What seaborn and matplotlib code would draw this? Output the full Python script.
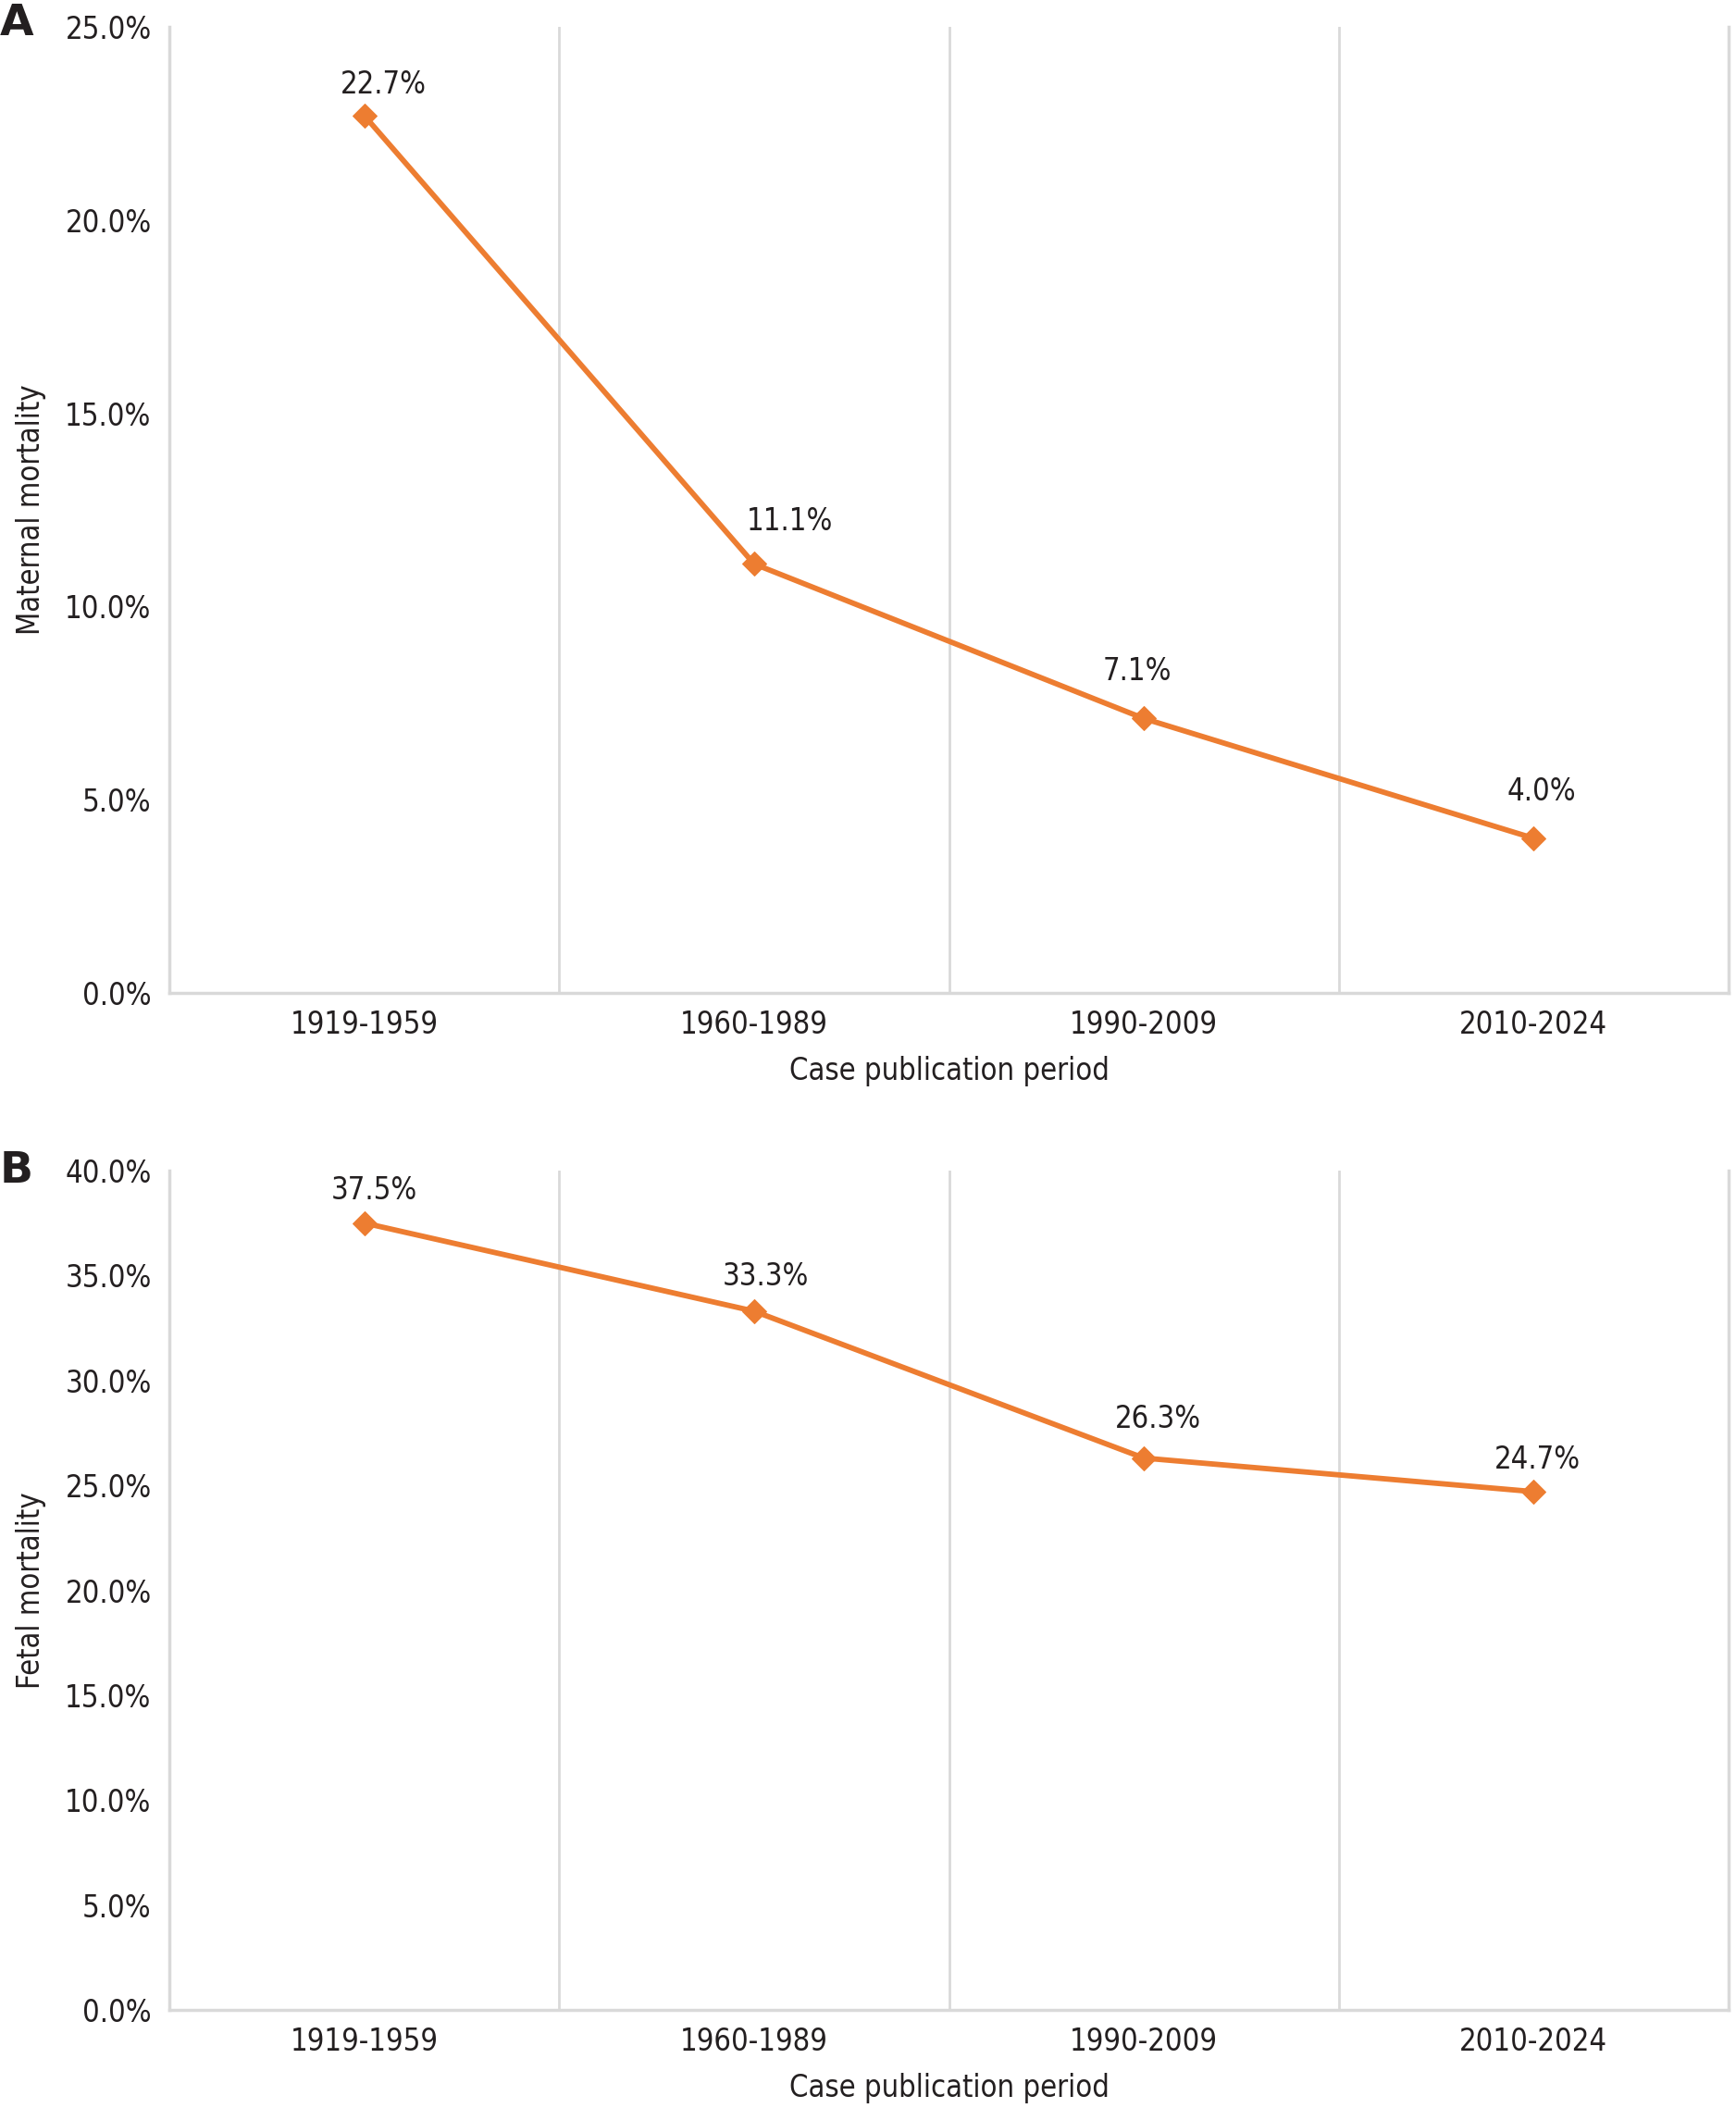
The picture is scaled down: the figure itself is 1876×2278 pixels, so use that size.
import matplotlib
matplotlib.use("Agg")
import matplotlib.pyplot as plt
import seaborn as sns
import pandas as pd
from matplotlib import font_manager

periods = ["1919-1959", "1960-1989", "1990-2009", "2010-2024"]
maternal_mortality = [22.7, 11.1, 7.1, 4.0]
fetal_mortality = [37.5, 33.3, 26.3, 24.7]
maternal_ticks = [0, 5, 10, 15, 20, 25]
fetal_ticks = [0, 5, 10, 15, 20, 25, 30, 35, 40]

sns.set_theme(style="white")
condensed = [f for f in font_manager.fontManager.ttflist
             if f.name == "DejaVu Sans" and ("ondensed" in str(f.stretch) or "Condensed" in f.fname)]
plt.rcParams['font.family'] = ['DejaVu Sans']
if condensed:
    plt.rcParams['font.stretch'] = 'condensed'

TEXT = "#231F20"
ORANGE = "#ED7D31"
GRID = "#D9D9D9"
FS = 23.5

W, H = 1876, 2278
fig = plt.figure(figsize=(W / 100, H / 100), dpi=100)
axA = fig.add_axes([0.0976, 0.529, 0.8981, 0.4583])
axB = fig.add_axes([0.0976, 0.0465, 0.8981, 0.3982])

# label offsets (points) relative to marker
offA = [(15, 24), (28, 33), (-5, 37), (6, 36)]
offB = [(8, 25), (9, 27), (11, 30), (3, 25)]

def draw(ax, vals, ticks, ylabel, offs, letter, letter_y):
    df = pd.DataFrame({"period": periods, "value": vals})
    sns.lineplot(data=df, x="period", y="value", ax=ax, color=ORANGE,
                 linewidth=4.2, marker="D", markersize=13,
                 markeredgecolor=ORANGE, sort=False)
    ax.set_xlim(-0.5, len(periods) - 0.5)
    ax.set_ylim(ticks[0], ticks[-1])
    ax.set_yticks(ticks)
    ax.set_yticklabels([f"{t:.1f}%" for t in ticks], fontsize=FS, color=TEXT)
    ax.set_xticks(range(len(periods)))
    ax.set_xticklabels(periods, fontsize=FS, color=TEXT)
    ax.tick_params(axis="y", length=0, pad=14)
    ax.tick_params(axis="x", length=0, pad=13)
    for x in [0.5, 1.5, 2.5]:
        ax.axvline(x, color=GRID, linewidth=2, zorder=0)
    for s in ["left", "right", "bottom"]:
        ax.spines[s].set_color(GRID)
        ax.spines[s].set_linewidth(2.5)
    ax.spines["top"].set_visible(False)
    ax.set_xlabel("Case publication period", fontsize=FS, color=TEXT)
    ax.set_ylabel(ylabel, fontsize=FS, color=TEXT)
    hpx = ax.get_position().height * H
    ax.xaxis.set_label_coords(0.5, -68 / hpx)
    ax.yaxis.set_label_coords(-0.079, 0.5)
    for i, v in enumerate(vals):
        ax.annotate(f"{v:.1f}%", (i, v), xytext=offs[i], textcoords="offset points",
                    ha="center", va="center", fontsize=FS, color=TEXT)
    fig.text(0.0, letter_y, letter, fontsize=34, fontweight="heavy", color=TEXT,
             ha="left", va="center", fontstretch="normal")

draw(axA, maternal_mortality, maternal_ticks, "Maternal mortality", offA, "A", 1 - 26 / H)
draw(axB, fetal_mortality, fetal_ticks, "Fetal mortality", offB, "B", 1 - 1265 / H)

fig.savefig("out.png", dpi=100, facecolor="white")
